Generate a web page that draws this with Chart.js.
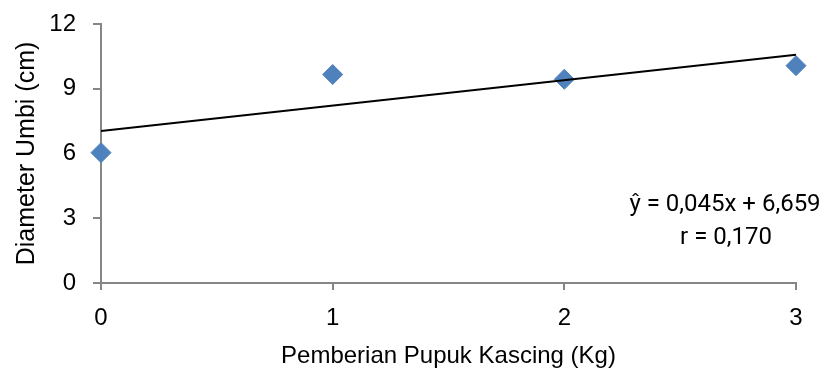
<!DOCTYPE html>
<html>
<head>
<meta charset="utf-8">
<script src="https://cdn.jsdelivr.net/npm/chart.js@4"></script>
<style>
    html, body { margin: 0; padding: 0; background: #ffffff; }
    #wrap { width: 827px; height: 372px; position: relative; }
</style>
</head>
<body>
<div id="wrap"><canvas id="chartKascing"></canvas></div>
<script>
// Datos
const dosis = [0, 1, 2, 3];
const diametro = [6.04, 9.66, 9.44, 10.07];
const tendenciaX = [0, 3];
const tendenciaY = [7.04, 10.58];
const ticksY = [0, 3, 6, 9, 12];
const ecuacion = ['ŷ = 0,045x + 6,659', 'r = 0,170'];

const colores = {
    punto: '#4f81bd',
    eje: '#868686',
    texto: '#000000'
};

const fuente = 'Liberation Sans';

// Texto de la ecuación dentro del área
const ecuacionPlugin = {
    id: 'ecuacion',
    afterDatasetsDraw(chart) {
        const ctx = chart.ctx;
        ctx.save();
        ctx.font = '24px Roboto';
        ctx.fillStyle = colores.texto;
        ctx.textAlign = 'center';
        ctx.textBaseline = 'middle';
        ctx.fillText(ecuacion[0], 725, 205);
        ctx.fillText(ecuacion[1], 726, 238);
        ctx.restore();
    }
};

new Chart(document.getElementById('chartKascing'), {
    type: 'scatter',
    data: {
        datasets: [
            {
                label: 'Diameter Umbi',
                data: dosis.map((x, i) => ({ x: x, y: diametro[i] })),
                pointStyle: 'rectRot',
                pointRadius: 10,
                pointHoverRadius: 10,
                backgroundColor: colores.punto,
                borderColor: colores.punto,
                borderWidth: 1,
                clip: false,
                order: 1
            },
            {
                type: 'line',
                label: 'Tren',
                data: tendenciaX.map((x, i) => ({ x: x, y: tendenciaY[i] })),
                borderColor: '#000000',
                borderWidth: 2,
                pointRadius: 0,
                fill: false,
                clip: false,
                order: 0
            }
        ]
    },
    options: {
        responsive: true,
        maintainAspectRatio: false,
        animation: false,
        layout: {
            padding: { left: 0, top: 24, right: 31, bottom: 0 }
        },
        plugins: {
            legend: { display: false },
            tooltip: { enabled: false }
        },
        scales: {
            x: {
                type: 'linear',
                min: 0,
                max: 3,
                afterFit(s) {
                    s.height = 89;
                    s.paddingLeft = 0;
                    s.paddingRight = 0;
                },
                afterBuildTicks(s) { s.ticks = dosis.map(v => ({ value: v })); },
                grid: {
                    drawOnChartArea: false,
                    color: colores.eje,
                    tickLength: 7,
                    lineWidth: 2
                },
                border: { color: colores.eje, width: 2 },
                ticks: {
                    color: colores.texto,
                    padding: 14,
                    font: { family: fuente, size: 24 }
                },
                title: {
                    display: true,
                    text: 'Pemberian Pupuk Kascing (Kg)',
                    color: colores.texto,
                    padding: { top: 0, bottom: 1 },
                    font: { family: fuente, size: 24 }
                }
            },
            y: {
                min: 0,
                max: 12,
                afterFit(s) {
                    s.width = 101;
                    s.paddingTop = 0;
                    s.paddingBottom = 0;
                },
                afterBuildTicks(s) { s.ticks = ticksY.map(v => ({ value: v })); },
                grid: {
                    drawOnChartArea: false,
                    color: colores.eje,
                    tickLength: 8,
                    lineWidth: 2
                },
                border: { color: colores.eje, width: 2 },
                ticks: {
                    color: colores.texto,
                    padding: 17,
                    font: { family: fuente, size: 24 }
                },
                title: {
                    display: true,
                    text: 'Diameter Umbi (cm)',
                    color: colores.texto,
                    padding: { top: 12, bottom: 0 },
                    font: { family: fuente, size: 25 }
                }
            }
        }
    },
    plugins: [ecuacionPlugin]
});
</script>
</body>
</html>
